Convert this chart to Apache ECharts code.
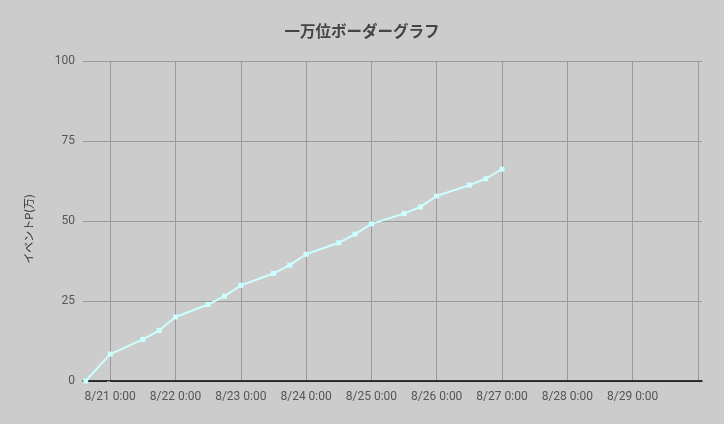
<!DOCTYPE html>
<html>
<head>
<meta charset="utf-8">
<script src="https://cdn.jsdelivr.net/npm/echarts@6/dist/echarts.min.js"></script>
<style>
html,body{margin:0;padding:0;background:#cccccc;}
#c{width:724px;height:424px;}
</style>
</head>
<body>
<div id="c"></div>
<script>
// hours relative to 8/21 0:00
var hours = [-9, 0, 12, 18, 24, 36, 42, 48, 60, 66, 72, 84, 90, 96, 108, 114, 120, 132, 138, 144];
var points = [0, 8.4, 13.0, 15.8, 20.0, 23.9, 26.5, 29.9, 33.6, 36.2, 39.6, 43.2, 45.9, 49.1, 52.3, 54.4, 57.8, 61.2, 63.2, 66.2];
var tickHours = [0, 24, 48, 72, 96, 120, 144, 168, 192, 216];
var tickLabels = ['8/21 0:00', '8/22 0:00', '8/23 0:00', '8/24 0:00', '8/25 0:00', '8/26 0:00', '8/27 0:00', '8/28 0:00', '8/29 0:00', ''];
var yTicks = [0, 25, 50, 75, 100];

var chart = echarts.init(document.getElementById('c'));
var data = hours.map(function (h, i) { return [h, points[i]]; });
chart.setOption({
  backgroundColor: '#cccccc',
  animation: false,
  title: {
    text: '一万位ボーダーグラフ',
    left: 'center',
    top: 18,
    textStyle: { fontFamily: 'Noto Sans CJK JP', fontSize: 15.5, fontWeight: 'bold', color: '#444444' }
  },
  grid: { left: 83, right: 22, top: 61, bottom: 43, containLabel: false },
  xAxis: {
    type: 'value',
    min: -10,
    max: 217.5,
    axisLine: { show: true, onZero: false, lineStyle: { color: '#000000', width: 1.5 } },
    axisTick: { show: false, customValues: tickHours },
    splitLine: { show: true, lineStyle: { color: '#999999', width: 1 } },
    axisLabel: {
      customValues: tickHours.slice(0, 9),
      color: '#555555',
      fontFamily: 'Roboto',
      fontSize: 12,
      margin: 10,
      formatter: function (v) {
        var i = tickHours.indexOf(v);
        return i >= 0 ? tickLabels[i] : '';
      }
    }
  },
  yAxis: {
    type: 'value',
    min: 0,
    max: 100,
    interval: 25,
    name: 'イベントP(万)',
    nameLocation: 'middle',
    nameGap: 49,
    nameTextStyle: { fontFamily: 'Noto Sans CJK JP', fontSize: 11, color: '#333333', padding: [0, 16, 0, 0] },
    axisLine: { show: false },
    axisTick: { show: true, length: 3, lineStyle: { color: '#999999' } },
    splitLine: { show: true, lineStyle: { color: '#999999', width: 1 } },
    axisLabel: {
      color: '#555555',
      fontFamily: 'Roboto',
      fontSize: 12,
      margin: 8,
      formatter: function (v) { return yTicks.indexOf(v) >= 0 ? String(v) : ''; }
    }
  },
  series: [{
    type: 'line',
    data: data,
    lineStyle: { color: '#ccffff', width: 2 },
    itemStyle: { color: '#ccffff' },
    symbol: 'rect',
    symbolSize: 5,
    showAllSymbol: true
  }]
});
</script>
</body>
</html>
